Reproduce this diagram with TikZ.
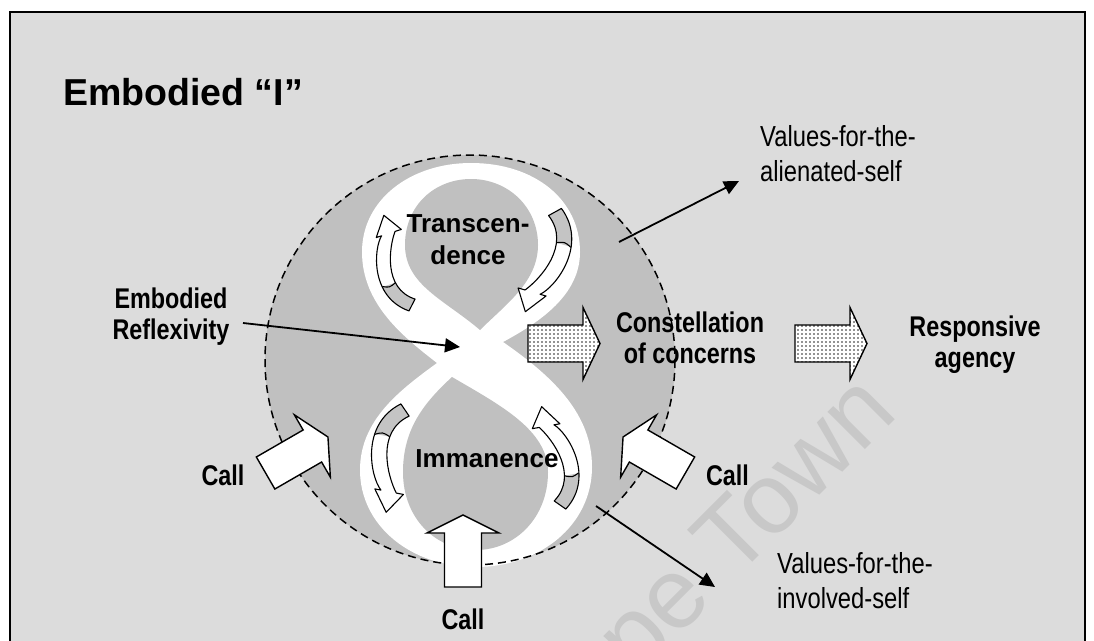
\documentclass[tikz,border=0pt]{standalone}
\usepackage{fontspec}
\setmainfont{Liberation Sans}
\newfontfamily\narrowsans[FakeStretch=0.82]{Liberation Sans}
\usetikzlibrary{arrows.meta,patterns}

\definecolor{panel}{RGB}{220,220,220}
\definecolor{disk}{RGB}{192,192,192}
\definecolor{curlgray}{RGB}{196,196,196}
\definecolor{wmgray}{RGB}{200,200,200}

% fine dot fill for the stippled arrows
\pgfdeclarepatternformonly{finedots}{\pgfqpoint{-1pt}{-1pt}}{\pgfqpoint{4pt}{4pt}}{\pgfqpoint{4pt}{4pt}}%
  {\pgfpathcircle{\pgfqpoint{2pt}{2pt}}{0.9pt}\pgfusepath{fill}}

\tikzset{
  title/.style={font=\bfseries\fontsize{37.5}{45}\selectfont, inner sep=0pt, anchor=north west},
  looplabel/.style={font=\bfseries\fontsize{26}{32}\selectfont, align=center, inner sep=0pt, anchor=north},
  keylabel/.style={font=\narrowsans\bfseries\fontsize{28.5}{31}\selectfont, align=center, inner sep=0pt, anchor=north},
  valuelabel/.style={font=\narrowsans\fontsize{29}{35}\selectfont, align=left, inner sep=0pt, anchor=north west},
  wmark/.style={font=\fontsize{100}{100}\selectfont, text=wmgray, inner sep=0pt},
  pointer/.style={line width=1.8pt, -{Triangle[length=15pt,width=14pt]}},
  blockline/.style={line width=1.4pt, line join=miter},
  % curved circulation arrow: tail at origin, tip 100 units above, bowing left
  twistarrow/.pic={
    \fill[white] (-5,5) .. controls (-40,-22) and (-20,-70) .. (-8,-80) -- (-14,-80) -- (1,-100)
      -- (14,-80) -- (7,-80) .. controls (-4,-66) and (-24,-26) .. (5,-5) -- cycle;
    \begin{scope}
      \clip (-50,12) rectangle (50,-28);
      \fill[curlgray] (-5,5) .. controls (-40,-22) and (-20,-70) .. (-8,-80) -- (-14,-80) -- (1,-100)
        -- (14,-80) -- (7,-80) .. controls (-4,-66) and (-24,-26) .. (5,-5) -- cycle;
    \end{scope}
    \draw[line width=1.1pt, line join=round] (-5,5) .. controls (-40,-22) and (-20,-70) .. (-8,-80) -- (-14,-80) -- (1,-100)
      -- (14,-80) -- (7,-80) .. controls (-4,-66) and (-24,-26) .. (5,-5) -- cycle;
    \draw[line width=1.1pt] (-24,-28.5) .. controls (-17,-25) .. (-9.5,-28);
  },
  % block arrow: tail centre at origin, pointing along +x
  callarrow/.pic={
    \draw[blockline, fill=white] (0,-18.5) -- (54,-18.5) -- (54,-36) -- (72,0) -- (54,36) -- (54,18.5) -- (0,18.5) -- cycle;
  },
  stipplearrow/.pic={
    \draw[blockline, preaction={fill=white}, pattern=finedots, pattern color=black!85]
      (0,-18.5) -- (55,-18.5) -- (55,-36) -- (72,0) -- (55,36) -- (55,18.5) -- (0,18.5) -- cycle;
  }
}

\begin{document}
\begin{tikzpicture}[x=1pt,y=-1pt]
  \useasboundingbox (0,0) rectangle (1094,640);
  \fill[white] (0,0) rectangle (1094,640);

  % panel
  \draw[line width=1.5pt, fill=panel] (10,12) rectangle (1085,670);

  % watermark
  \node[wmark, rotate=45, anchor=base east] (wm) at (900,415) {Cape Town};

  % the self: shaded disk
  \fill[disk] (470,360) circle[radius=205];

  % figure of eight
  \fill[white] (437,363)
    .. controls (405,338) and (362,305) .. (362,252)
    .. controls (362,200) and (410,163) .. (471,163)
    .. controls (535,163) and (580,200) .. (580,252)
    .. controls (580,295) and (540,322) .. (503,342)
    .. controls (555,378) and (592,415) .. (592,467)
    .. controls (592,525) and (540,567) .. (476,567)
    .. controls (410,567) and (360,525) .. (360,470)
    .. controls (360,420) and (400,390) .. (437,363) -- cycle;
  \fill[disk] (480,330)
    .. controls (445,300) and (405,285) .. (405,245)
    .. controls (405,205) and (435,179) .. (471,179)
    .. controls (508,179) and (538,207) .. (538,245)
    .. controls (538,282) and (505,305) .. (480,330) -- cycle;
  \fill[disk] (452,377)
    .. controls (500,405) and (548,430) .. (548,472)
    .. controls (548,518) and (515,550) .. (476,550)
    .. controls (435,550) and (403,518) .. (403,472)
    .. controls (403,428) and (425,402) .. (452,377) -- cycle;

  % circulation arrows in the two loops
  \pic[rotate=18, scale=0.94] at (412,305) {twistarrow};
  \pic[rotate=164, scale=1.04] at (555,212) {twistarrow};
  \pic[rotate=-11, yscale=-1, scale=1.04] at (405,410) {twistarrow};
  \pic[rotate=10, xscale=-1] at (560,505) {twistarrow};

  % boundary of the embodied self
  \draw[line width=1.5pt, dash pattern=on 8pt off 5pt] (470,360) circle[radius=205];

  % calls from outside
  \pic[rotate=30] at (265.6,473) {callarrow};
  \pic[rotate=150] at (685.4,473) {callarrow};
  \pic[rotate=90] at (463,587) {callarrow};

  % outgoing stippled arrows
  \pic at (528,343.5) {stipplearrow};
  \pic at (795,343.5) {stipplearrow};

  % labels
  \node[title] (title) at (63,78) {Embodied “I”};
  \node[looplabel] (transc) at (468,214) {Transcen-\\dence};
  \node[looplabel] (immanence) at (487,449) {Immanence};
  \node[keylabel] (reflex) at (171,288) {Embodied\\Reflexivity};
  \node[keylabel] (constell) at (690,312) {Constellation\\of concerns};
  \node[keylabel] (respons) at (975,316) {Responsive\\agency};
  \node[keylabel] (callL) at (223,465) {Call};
  \node[keylabel] (callR) at (727.5,465) {Call};
  \node[keylabel] (callB) at (463,609) {Call};
  \node[valuelabel] (valAlien) at (760,125) {Values-for-the-\\alienated-self};
  \node[valuelabel] (valInv) at (777,552) {Values-for-the-\\involved-self};

  % pointers
  \coordinate (reflexStart) at (243,323);
  \coordinate (reflexTip) at (460,347);
  \coordinate (alienStart) at (619,242);
  \coordinate (alienTip) at (739,181);
  \coordinate (invStart) at (596,506);
  \coordinate (invTip) at (715,587);
  \draw[pointer] (reflexStart) -- (reflexTip);
  \draw[pointer] (alienStart) -- (alienTip);
  \draw[pointer] (invStart) -- (invTip);
\end{tikzpicture}
\end{document}
